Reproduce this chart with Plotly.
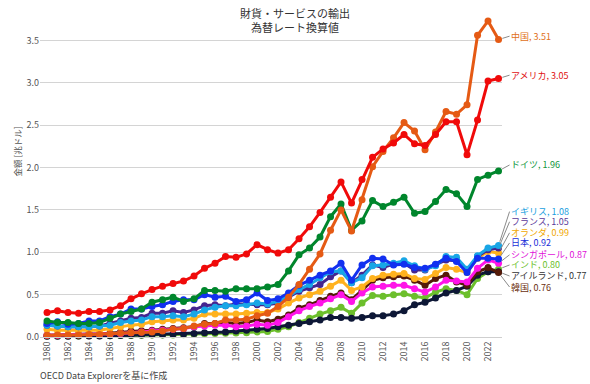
import plotly.graph_objects as go

years = list(range(1980, 2024))

usa = [0.29, 0.31, 0.29, 0.28, 0.30, 0.30, 0.32, 0.37, 0.45, 0.51,
       0.56, 0.60, 0.63, 0.66, 0.72, 0.81, 0.87, 0.95, 0.94, 0.98,
       1.09, 1.03, 0.99, 1.03, 1.16, 1.30, 1.47, 1.65, 1.83, 1.58,
       1.86, 2.12, 2.22, 2.29, 2.39, 2.28, 2.26, 2.39, 2.54, 2.54,
       2.15, 2.56, 3.02, 3.05]
china = [0.02, 0.025, 0.025, 0.025, 0.03, 0.03, 0.035, 0.045, 0.05, 0.055,
         0.06, 0.07, 0.09, 0.10, 0.13, 0.15, 0.16, 0.20, 0.20, 0.21,
         0.25, 0.28, 0.36, 0.47, 0.62, 0.80, 0.98, 1.26, 1.50, 1.25,
         1.62, 2.01, 2.19, 2.35, 2.53, 2.43, 2.21, 2.42, 2.66, 2.63,
         2.74, 3.56, 3.73, 3.51]
germany = [0.19, 0.17, 0.17, 0.16, 0.16, 0.17, 0.22, 0.27, 0.30, 0.33,
           0.41, 0.44, 0.47, 0.42, 0.45, 0.55, 0.55, 0.54, 0.57, 0.57,
           0.57, 0.59, 0.62, 0.78, 0.97, 1.05, 1.18, 1.42, 1.57, 1.26,
           1.37, 1.61, 1.54, 1.59, 1.65, 1.46, 1.48, 1.60, 1.74, 1.69,
           1.54, 1.86, 1.91, 1.96]
uk = [0.14, 0.13, 0.12, 0.12, 0.12, 0.13, 0.14, 0.17, 0.19, 0.20,
      0.24, 0.24, 0.25, 0.24, 0.27, 0.32, 0.35, 0.37, 0.37, 0.38,
      0.40, 0.39, 0.42, 0.48, 0.56, 0.62, 0.70, 0.77, 0.78, 0.64,
      0.70, 0.84, 0.85, 0.87, 0.90, 0.84, 0.80, 0.84, 0.95, 0.94,
      0.80, 0.96, 1.05, 1.08]
france = [0.14, 0.13, 0.12, 0.12, 0.12, 0.13, 0.16, 0.19, 0.22, 0.23,
          0.28, 0.28, 0.31, 0.29, 0.32, 0.37, 0.38, 0.37, 0.39, 0.39,
          0.38, 0.38, 0.40, 0.47, 0.54, 0.58, 0.62, 0.71, 0.78, 0.64,
          0.73, 0.85, 0.82, 0.86, 0.87, 0.79, 0.79, 0.85, 0.91, 0.90,
          0.79, 0.95, 1.03, 1.05]
netherlands = [0.09, 0.08, 0.08, 0.08, 0.08, 0.08, 0.10, 0.12, 0.14, 0.15,
               0.18, 0.19, 0.20, 0.20, 0.22, 0.27, 0.27, 0.27, 0.27, 0.28,
               0.29, 0.29, 0.33, 0.40, 0.46, 0.50, 0.54, 0.60, 0.67, 0.55,
               0.59, 0.69, 0.73, 0.74, 0.75, 0.69, 0.68, 0.75, 0.82, 0.80,
               0.76, 0.93, 1.01, 0.99]
japan = [0.16, 0.18, 0.15, 0.16, 0.19, 0.19, 0.24, 0.27, 0.33, 0.33,
         0.36, 0.38, 0.42, 0.44, 0.44, 0.50, 0.47, 0.48, 0.42, 0.44,
         0.52, 0.43, 0.45, 0.52, 0.61, 0.67, 0.73, 0.78, 0.87, 0.67,
         0.85, 0.93, 0.92, 0.85, 0.86, 0.82, 0.81, 0.86, 0.93, 0.89,
         0.76, 0.93, 0.93, 0.92]
singapore = [0.02, 0.022, 0.024, 0.026, 0.028, 0.028, 0.03, 0.04, 0.05, 0.06,
             0.07, 0.08, 0.09, 0.10, 0.12, 0.13, 0.14, 0.14, 0.12, 0.13,
             0.15, 0.14, 0.17, 0.24, 0.31, 0.36, 0.40, 0.45, 0.50, 0.42,
             0.52, 0.59, 0.60, 0.61, 0.61, 0.57, 0.53, 0.59, 0.67, 0.66,
             0.65, 0.81, 0.91, 0.87]
india = [0.012, 0.012, 0.013, 0.013, 0.014, 0.014, 0.015, 0.017, 0.019, 0.021,
         0.023, 0.023, 0.025, 0.028, 0.032, 0.038, 0.042, 0.045, 0.046, 0.05,
         0.06, 0.065, 0.09, 0.12, 0.17, 0.22, 0.27, 0.31, 0.35, 0.28,
         0.40, 0.49, 0.48, 0.50, 0.51, 0.48, 0.46, 0.53, 0.57, 0.55,
         0.50, 0.69, 0.77, 0.80]
ireland = [0.01, 0.01, 0.01, 0.011, 0.012, 0.012, 0.014, 0.017, 0.02, 0.024,
           0.027, 0.028, 0.032, 0.035, 0.04, 0.05, 0.055, 0.06, 0.07, 0.08,
           0.09, 0.10, 0.12, 0.14, 0.16, 0.18, 0.20, 0.23, 0.23, 0.22,
           0.23, 0.25, 0.25, 0.27, 0.31, 0.38, 0.41, 0.46, 0.52, 0.55,
           0.60, 0.73, 0.77, 0.77]
korea = [0.02, 0.025, 0.025, 0.03, 0.035, 0.035, 0.045, 0.06, 0.07, 0.075,
         0.08, 0.09, 0.10, 0.11, 0.12, 0.16, 0.16, 0.17, 0.16, 0.17,
         0.20, 0.18, 0.21, 0.26, 0.34, 0.38, 0.43, 0.48, 0.52, 0.44,
         0.55, 0.67, 0.70, 0.71, 0.72, 0.67, 0.61, 0.69, 0.73, 0.65,
         0.61, 0.77, 0.82, 0.76]

# name, data, line colour, label colour, final value label, label y (data units)
series = [
    ("インド", india, "#6cbf2c", "#6cbf2c", "0.80", 0.85),
    ("アイルランド", ireland, "#0d1736", "#333333", "0.77", 0.72),
    ("韓国", korea, "#541a08", "#6b3010", "0.76", 0.59),
    ("シンガポール", singapore, "#ff14e8", "#e010d8", "0.87", 0.97),
    ("オランダ", netherlands, "#ffb21e", "#f0a800", "0.99", 1.23),
    ("フランス", france, "#45258f", "#5a3a9a", "1.05", 1.36),
    ("イギリス", uk, "#18a6e6", "#18a0e0", "1.08", 1.48),
    ("日本", japan, "#1230f0", "#1a30d8", "0.92", 1.11),
    ("ドイツ", germany, "#00862c", "#10963c", "1.96", 2.03),
    ("中国", china, "#e55a14", "#e07020", "3.51", 3.55),
    ("アメリカ", usa, "#f00a0a", "#e01010", "3.05", 3.09),
]

tick_years = list(range(1980, 2023, 2))
y_ticks = [0.0, 0.5, 1.0, 1.5, 2.0, 2.5, 3.0, 3.5]

font_jp = "Noto Sans CJK JP, Noto Sans, sans-serif"

fig = go.Figure()
for name, vals, col, lcol, last, ly in series:
    fig.add_trace(go.Scatter(
        x=years, y=vals, mode="lines+markers", name=name,
        line=dict(color=col, width=3),
        marker=dict(color=col, size=7),
        cliponaxis=False,
        showlegend=False,
    ))

annotations = []
for name, vals, col, lcol, last, ly in series:
    annotations.append(dict(
        x=years[-1], y=vals[-1], xref="x", yref="y",
        ax=2024.05, ay=ly, axref="x", ayref="y",
        text=f"{name}, {last}", xanchor="left", yanchor="middle",
        showarrow=True, arrowhead=0, arrowwidth=1, arrowcolor="#8a8a8a",
        standoff=4, startstandoff=0, borderpad=0,
        font=dict(family=font_jp, size=9, color=lcol),
    ))

annotations.append(dict(
    x=-0.068, y=0.575, xref="paper", yref="paper",
    text="金額 [兆ドル]", textangle=-90, showarrow=False,
    font=dict(family=font_jp, size=8.5, color="#555555"),
))
annotations.append(dict(
    x=-0.005, y=-0.12, xref="paper", yref="paper",
    text="OECD Data Explorerを基に作成", showarrow=False,
    xanchor="left", yanchor="middle",
    font=dict(family=font_jp, size=9, color="#444444"),
))
annotations.append(dict(
    x=(295 - 40) / 462, y=(337 - 3) / 322, xref="paper", yref="paper",
    text="財貨・サービスの輸出<br>為替レート換算値", showarrow=False,
    xanchor="center", yanchor="top",
    font=dict(family=font_jp, size=11, color="#333333"),
))

fig.update_layout(
    width=590, height=384,
    margin=dict(l=40, r=88, t=15, b=47),
    paper_bgcolor="white", plot_bgcolor="white",
    annotations=annotations,
    xaxis=dict(
        range=[1979.33, 2023.33], automargin=False,
        tickvals=tick_years, ticktext=[str(y) for y in tick_years],
        tickangle=-90, showgrid=False, zeroline=False,
        showline=True, linecolor="#cfcfcf", linewidth=1,
        ticks="", tickfont=dict(family=font_jp, size=9, color="#555555"),
    ),
    yaxis=dict(
        range=[0, 3.8], tickvals=y_ticks, automargin=False,
        ticktext=[f"{v:.1f}" for v in y_ticks],
        showgrid=True, gridcolor="#d4d4d4", gridwidth=1,
        zeroline=False, showline=False, ticks="",
        tickfont=dict(family=font_jp, size=9, color="#555555"),
    ),
)

fig.write_html(
    "out.html",
    config={"displayModeBar": False},
    post_script="document.body.style.margin='0';document.body.style.overflow='hidden';",
)
